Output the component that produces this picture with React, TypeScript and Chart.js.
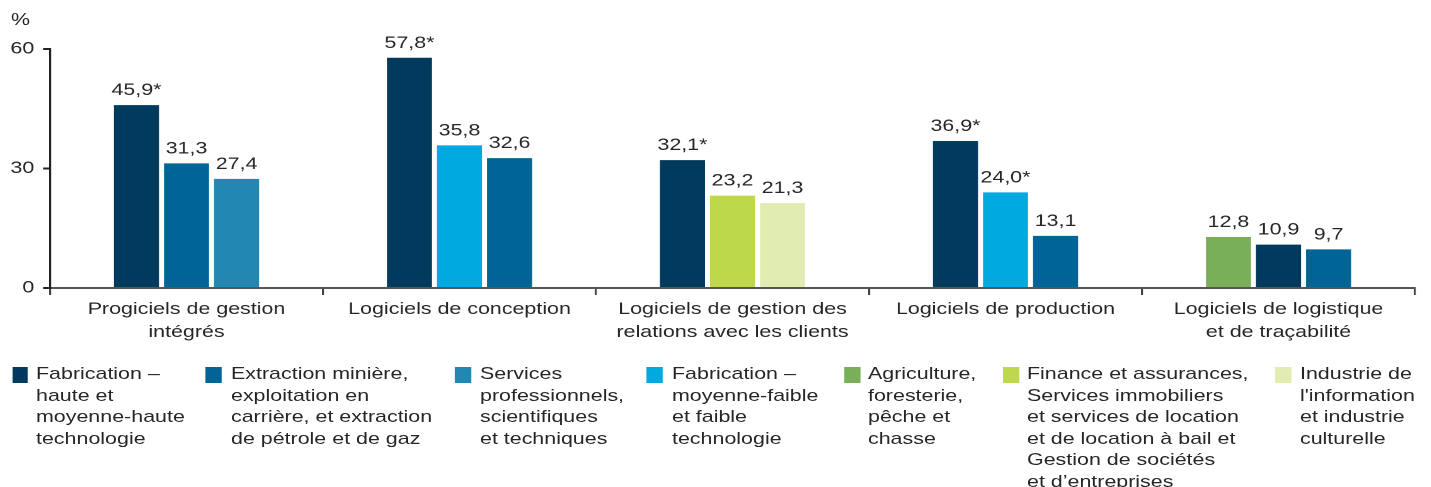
import React, { useEffect, useRef } from "react";
import { Chart, registerables } from "chart.js";

Chart.register(...registerables);

const categories: string[][] = [
  ["Progiciels de gestion", "intégrés"],
  ["Logiciels de conception"],
  ["Logiciels de gestion des", "relations avec les clients"],
  ["Logiciels de production"],
  ["Logiciels de logistique", "et de traçabilité"],
];

const yTicks = [0, 30, 60];

// values per series (null = not shown in that category)
const agriculture = [null, null, null, null, 12.8];
const fabHaute = [45.9, 57.8, 32.1, 36.9, 10.9];
const fabMoyenne = [null, 35.8, null, 24.0, null];
const extraction = [31.3, 32.6, null, 13.1, 9.7];
const services = [27.4, null, null, null, null];
const finance = [null, null, 23.2, null, null];
const industrie = [null, null, 21.3, null, null];

// significance flags (*)
const fabHauteStar = [true, true, true, true, false];
const fabMoyenneStar = [false, false, false, true, false];
const noStar = [false, false, false, false, false];

const colors = {
  fabHaute: "#003a5c",
  extraction: "#006496",
  services: "#2288b3",
  fabMoyenne: "#00a9e0",
  agriculture: "#79af58",
  finance: "#bdd84a",
  industrie: "#e1ecb0",
};

// horizontal stretch of the reference artwork
const SX = 1.26;
const W = 1136;
const H = 350;

const legendItems = [
  { color: colors.fabHaute, lines: ["Fabrication –", "haute et", "moyenne-haute", "technologie"], sq: 12, tx: 36 },
  { color: colors.extraction, lines: ["Extraction minière,", "exploitation en", "carrière, et extraction", "de pétrole et de gaz"], sq: 206, tx: 231 },
  { color: colors.services, lines: ["Services", "professionnels,", "scientifiques", "et techniques"], sq: 455, tx: 480 },
  { color: colors.fabMoyenne, lines: ["Fabrication –", "moyenne-faible", "et faible", "technologie"], sq: 647, tx: 672 },
  { color: colors.agriculture, lines: ["Agriculture,", "foresterie,", "pêche et", "chasse"], sq: 844, tx: 868 },
  { color: colors.finance, lines: ["Finance et assurances,", "Services immobiliers", "et services de location", "et de location à bail et", "Gestion de sociétés", "et d’entreprises"], sq: 1003, tx: 1027 },
  { color: colors.industrie, lines: ["Industrie de", "l'information", "et industrie", "culturelle"], sq: 1275, tx: 1300 },
];

const FONT = "'Liberation Sans', Arial, sans-serif";
const TEXT = "#262626";

export default function App() {
  const ref = useRef<HTMLCanvasElement | null>(null);

  useEffect(() => {
    document.body.style.margin = "0";
    const ctx = ref.current!;
    const mk = (data: (number | null)[], color: string, stars: boolean[]) => ({
      data,
      backgroundColor: color,
      stars,
      skipNull: true,
      barPercentage: 0.9,
      categoryPercentage: 0.55,
    });

    const labelPlugin = {
      id: "valueLabels",
      afterDatasetsDraw(chart: any) {
        const c = chart.ctx;
        c.save();
        c.font = `17px ${FONT}`;
        c.fillStyle = TEXT;
        c.textAlign = "center";
        c.textBaseline = "alphabetic";
        chart.data.datasets.forEach((ds: any, di: number) => {
          const meta = chart.getDatasetMeta(di);
          meta.data.forEach((el: any, i: number) => {
            const v = ds.data[i];
            if (v === null || v === undefined) return;
            const txt = v.toFixed(1).replace(".", ",") + (ds.stars[i] ? "*" : "");
            c.fillText(txt, el.x, el.y - 10);
          });
        });
        c.restore();
      },
    };

    const chart = new Chart(ctx, {
      type: "bar",
      data: {
        labels: categories,
        datasets: [
          mk(agriculture, colors.agriculture, noStar),
          mk(fabHaute, colors.fabHaute, fabHauteStar),
          mk(fabMoyenne, colors.fabMoyenne, fabMoyenneStar),
          mk(extraction, colors.extraction, noStar),
          mk(services, colors.services, noStar),
          mk(finance, colors.finance, noStar),
          mk(industrie, colors.industrie, noStar),
        ] as any,
      },
      options: {
        animation: false,
        responsive: false,
        maintainAspectRatio: false,
        devicePixelRatio: 2,
        layout: { padding: { top: 49, right: W - 1415 / SX, left: 0, bottom: 0 } },
        plugins: { legend: { display: false }, tooltip: { enabled: false } },
        scales: {
          x: {
            grid: {
              offset: true,
              drawOnChartArea: false,
              drawTicks: true,
              tickLength: 7,
              color: "#444",
              lineWidth: 1.6,
            },
            border: { display: true, color: "#555", width: 2 },
            ticks: {
              color: TEXT,
              font: { family: FONT, size: 17, lineHeight: 1.35 },
              padding: 3,
              maxRotation: 0,
              autoSkip: false,
            },
            afterFit: (s: any) => {
              s.height = H - 288;
            },
          },
          y: {
            min: 0,
            max: 60,
            afterBuildTicks: (s: any) => {
              s.ticks = yTicks.map((v) => ({ value: v }));
            },
            grid: {
              drawOnChartArea: false,
              drawTicks: true,
              tickLength: 5.5,
              color: "#222",
              lineWidth: 2,
            },
            border: { display: true, color: "#222", width: 1.6 },
            ticks: {
              color: TEXT,
              font: { family: FONT, size: 17 },
              padding: 7,
            },
            afterFit: (s: any) => {
              s.width = 50 / SX;
            },
          },
        },
      },
      plugins: [labelPlugin],
    });
    return () => chart.destroy();
  }, []);

  return (
    <div style={{ position: "relative", width: 1431, height: 487, overflow: "hidden" }}>
      <div
        style={{
          position: "absolute",
          left: 0,
          top: 0,
          width: W,
          height: 487,
          transform: `scaleX(${SX})`,
          transformOrigin: "0 0",
          fontFamily: FONT,
          color: TEXT,
        }}
      >
        <div style={{ position: "absolute", left: 11 / SX, top: 9, fontSize: 17, lineHeight: "21px" }}>%</div>
        <canvas ref={ref} width={W} height={H} style={{ position: "absolute", left: 0, top: 0, width: W, height: H }} />
        {legendItems.map((it, k) => (
          <React.Fragment key={k}>
            <div style={{ position: "absolute", left: it.sq / SX, top: 367, width: 16 / SX, height: 16, background: it.color }} />
            <div style={{ position: "absolute", left: it.tx / SX, top: 363, fontSize: 17, lineHeight: "21.5px", whiteSpace: "nowrap" }}>
              {it.lines.map((l, j) => (
                <div key={j}>{l}</div>
              ))}
            </div>
          </React.Fragment>
        ))}
      </div>
    </div>
  );
}
